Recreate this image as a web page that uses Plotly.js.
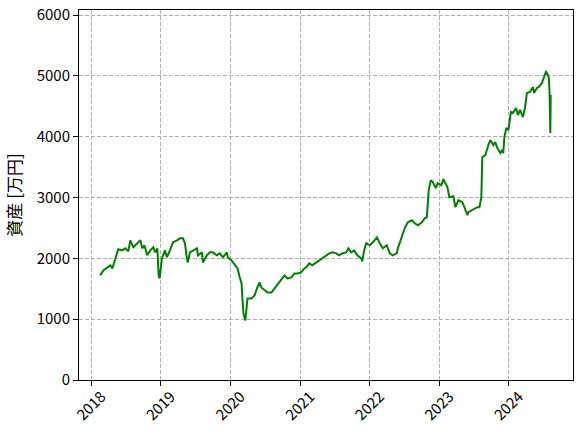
<!DOCTYPE html>
<html>
<head>
<meta charset="utf-8">
<script src="https://cdn.plot.ly/plotly-3.0.1.min.js"></script>
<style>html,body{margin:0;padding:0;background:#fff;}#chart{width:583px;height:433px;}</style>
</head>
<body>
<div id="chart"></div>
<script>
const dates = [
"2018-02-16","2018-03-05","2018-03-26","2018-04-11","2018-04-21","2018-05-07","2018-05-22","2018-06-12","2018-06-28","2018-07-14",
"2018-07-24","2018-08-09","2018-08-30","2018-09-15","2018-09-25","2018-10-06","2018-10-21","2018-11-06","2018-11-22","2018-12-02",
"2018-12-13","2018-12-20","2018-12-25",
"2019-01-06","2019-01-22","2019-02-01","2019-02-17","2019-03-05","2019-03-26","2019-04-11","2019-04-26","2019-05-07","2019-05-17",
"2019-05-22","2019-06-02","2019-06-18","2019-07-09","2019-07-14","2019-08-04","2019-08-09","2019-08-30","2019-09-15","2019-09-30",
"2019-10-21","2019-11-06","2019-11-22","2019-12-13","2019-12-18",
"2020-01-06","2020-01-22","2020-02-07","2020-02-17","2020-02-28","2020-03-04","2020-03-09","2020-03-19","2020-03-25","2020-03-30",
"2020-04-20","2020-05-06","2020-05-21","2020-06-01","2020-06-11","2020-06-27","2020-07-13","2020-08-03","2020-08-19","2020-09-03",
"2020-09-24","2020-10-10","2020-10-26","2020-11-16","2020-12-01","2020-12-17",
"2021-01-06","2021-01-22","2021-02-01","2021-02-17","2021-03-05","2021-03-26","2021-04-11","2021-04-26","2021-05-17","2021-06-02",
"2021-06-18","2021-07-09","2021-07-24","2021-08-09","2021-08-30","2021-09-10","2021-09-25","2021-10-11","2021-10-27","2021-11-17",
"2021-11-22","2021-12-02","2021-12-13",
"2022-01-01","2022-01-17","2022-01-27","2022-02-07","2022-02-22","2022-03-10","2022-03-31","2022-04-16","2022-05-01","2022-05-22",
"2022-05-28","2022-06-18","2022-07-03","2022-07-19","2022-08-09","2022-08-25","2022-09-10","2022-10-01","2022-10-16","2022-10-27",
"2022-11-06","2022-11-17","2022-11-27","2022-12-13","2022-12-23",
"2023-01-11","2023-01-22","2023-02-12","2023-02-22","2023-03-15","2023-03-26","2023-04-11","2023-05-01","2023-05-12","2023-05-28",
"2023-06-02","2023-06-23","2023-07-09","2023-07-19","2023-07-30","2023-08-09","2023-08-14","2023-08-30","2023-09-15","2023-09-25",
"2023-10-11","2023-10-21","2023-11-01","2023-11-17","2023-11-27","2023-12-02","2023-12-08","2023-12-18","2023-12-29",
"2024-01-11","2024-01-22","2024-02-07","2024-02-17","2024-02-28","2024-03-14","2024-03-25","2024-04-04","2024-04-20","2024-05-06",
"2024-05-11","2024-05-27","2024-06-06","2024-06-22","2024-07-02","2024-07-13","2024-07-18","2024-07-28","2024-08-01","2024-08-05",
"2024-08-07"
];
const assets = [
1720,1802,1852,1885,1835,2000,2149,2132,2165,2116,
2297,2182,2248,2297,2165,2215,2050,2132,2182,2099,
2165,1720,1671,
2000,2132,2017,2132,2264,2297,2330,2330,2248,2000,
1934,2099,2132,2165,2050,2099,1934,2050,2099,2099,
2050,2083,2017,2099,2017,
1967,1901,1835,1703,1588,1308,1094,980,1258,1341,
1341,1390,1522,1605,1522,1473,1440,1440,1506,1555,
1638,1720,1671,1687,1753,1753,
1769,1835,1852,1918,1885,1934,1967,2000,2050,2083,
2099,2083,2050,2083,2099,2165,2099,2132,2050,2000,
1951,2132,2248,
2215,2264,2297,2346,2248,2165,2215,2083,2050,2083,
2165,2346,2495,2594,2627,2577,2544,2594,2660,2676,
3122,3287,3254,3155,3237,
3204,3303,3172,3007,3023,2842,2958,2924,2842,2710,
2760,2792,2825,2842,2842,3007,3666,3699,3864,3946,
3864,3913,3814,3732,3781,3732,3996,4144,4111,
4408,4391,4474,4358,4441,4325,4474,4721,4738,4820,
4721,4804,4820,4886,4985,5067,5051,4968,4721,4061,
4688
];
const yearTicks = ["2018-01-01","2019-01-01","2020-01-01","2021-01-01","2022-01-01","2023-01-01","2024-01-01"];
const yearLabels = ["2018","2019","2020","2021","2022","2023","2024"];
const yTicks = [0,1000,2000,3000,4000,5000,6000];
const yLabel = "資産 [万円]";

const FONT = "'Noto Sans CJK JP', 'DejaVu Sans', sans-serif";
const trace = {
  x: dates, y: assets, type: "scatter", mode: "lines",
  line: {color: "#008000", width: 2}, hoverinfo: "skip"
};
const layout = {
  width: 583, height: 433,
  margin: {l: 79, r: 10, t: 10, b: 53},
  paper_bgcolor: "#ffffff", plot_bgcolor: "#ffffff",
  font: {family: FONT, size: 15, color: "#000"},
  showlegend: false,
  xaxis: {
    type: "date", range: ["2017-10-28", "2024-12-02"],
    tickvals: yearTicks, ticktext: yearLabels, tickangle: -45,
    ticks: "outside", ticklen: 5, tickwidth: 1, tickcolor: "#000",
    showline: true, linecolor: "#000", linewidth: 1, mirror: true,
    showgrid: true, gridcolor: "#b0b0b0", griddash: "4px,2px", gridwidth: 1,
    zeroline: false, tickfont: {family: FONT, size: 15},
    ticklabelshift: 10, ticklabelstandoff: -4
  },
  yaxis: {
    range: [0, 6085], tickvals: yTicks,
    ticks: "outside", ticklen: 5, tickwidth: 1, tickcolor: "#000",
    showline: true, linecolor: "#000", linewidth: 1, mirror: true,
    showgrid: true, gridcolor: "#b0b0b0", griddash: "4px,2px", gridwidth: 1,
    zeroline: false, tickfont: {family: FONT, size: 15},
    title: {text: yLabel, font: {family: FONT, size: 17}, standoff: 10}
  }
};
Plotly.newPlot("chart", [trace], layout, {staticPlot: true, displayModeBar: false});
</script>
</body>
</html>
